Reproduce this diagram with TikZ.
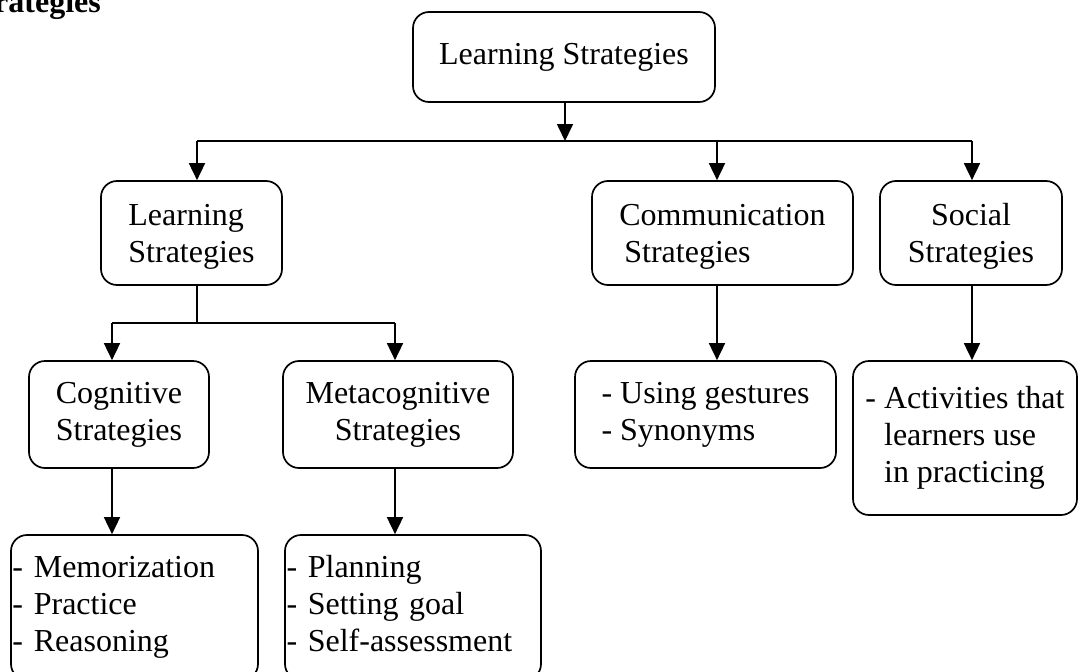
\documentclass[tikz,border=0pt]{standalone}
\usepackage{fontspec}
\setmainfont{Liberation Serif}
\usetikzlibrary{arrows.meta}

\newcommand\boxfont{\fontsize{32}{37}\selectfont}
% lowers the first line of a two-line label a little
\newcommand\toplift{\rule{0pt}{29pt}}

\tikzset{
  box/.style={draw, line width=1.7pt, rounded corners=16pt, inner sep=0pt,
              font=\boxfont, align=center},
  listbox/.style={box, align=left, inner xsep=1.5pt},
  link/.style={line width=1.7pt},
  arr/.style={line width=1.7pt, -{Triangle[length=17pt,width=16pt]}},
}

\begin{document}
\begin{tikzpicture}[x=1pt, y=-1pt]
  \useasboundingbox (0,0) rectangle (1080,672);
  \fill[white] (0,0) rectangle (1080,672);

  % heading, partly outside the page
  \node[font=\bfseries\fontsize{32}{38}\selectfont, anchor=base east, inner sep=0pt]
    (heading) at (101,12) {Strategies};

  % boxes
  \node[box, minimum width=302pt, minimum height=90pt] (top) at (564,57) {Learning Strategies};

  \node[box, align=left, minimum width=181pt, minimum height=104pt] (learn) at (191.5,233)
    {\toplift Learning\\Strategies};
  \node[box, align=left, minimum width=261pt, minimum height=104pt] (comm) at (722.5,233)
    {\toplift Communication\\\hspace*{5pt}Strategies};
  \node[box, minimum width=182pt, minimum height=104pt] (soc) at (971,233)
    {\toplift Social\\Strategies};

  \node[box, minimum width=180pt, minimum height=107pt] (cog) at (119,414.5)
    {Cognitive\\Strategies};
  \node[box, minimum width=230pt, minimum height=107pt] (meta) at (398,414.5)
    {Metacognitive\\Strategies};
  \node[box, align=left, minimum width=261pt, minimum height=107pt] (commb) at (705.5,414.5)
    {- Using gestures\\- Synonyms};
  \node[box, align=left, minimum width=224pt, minimum height=154pt] (socb) at (965,438)
    {- Activities that\\\hphantom{- }learners use\\\hphantom{- }in practicing};

  \node[listbox, text width=244pt, minimum height=145pt] (memo) at (134.5,607.5)
    {\strut- Memorization\\- Practice\\- Reasoning\strut};
  \node[listbox, text width=253pt, minimum height=145pt] (plan) at (413,607.5)
    {\strut- Planning\\- Setting goal\\- Self-assessment\strut};

  % junction points of the connectors
  \coordinate (hub) at (565,141);
  \coordinate (jL) at (197,141);
  \coordinate (jC) at (717,141);
  \coordinate (jS) at (972,141);
  \coordinate (kM) at (197,323);
  \coordinate (kL) at (112,323);
  \coordinate (kR) at (395,323);

  % first level
  \draw[arr] (top.south -| hub) -- (hub);
  \draw[link] (jL) -- (jS);
  \draw[arr] (jL) -- (jL |- learn.north);
  \draw[arr] (jC) -- (jC |- comm.north);
  \draw[arr] (jS) -- (jS |- soc.north);

  % second level
  \draw[link] (learn.south -| kM) -- (kM);
  \draw[link] (kL) -- (kR);
  \draw[arr] (kL) -- (kL |- cog.north);
  \draw[arr] (kR) -- (kR |- meta.north);
  \draw[arr] (comm.south -| jC) -- (jC |- commb.north);
  \draw[arr] (soc.south -| jS) -- (jS |- socb.north);

  % third level
  \draw[arr] (cog.south -| kL) -- (kL |- memo.north);
  \draw[arr] (meta.south -| kR) -- (kR |- plan.north);
\end{tikzpicture}
\end{document}
